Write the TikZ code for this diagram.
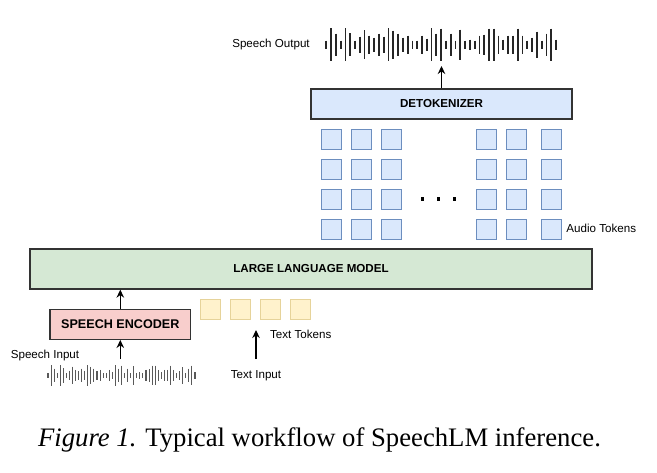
\documentclass[tikz,border=0pt]{standalone}
\usepackage{fontspec}
\setmainfont{Liberation Sans}
\newfontfamily\capfont{Liberation Serif}
\usetikzlibrary{arrows.meta}
\definecolor{blueFill}{HTML}{DAE8FC}
\definecolor{blueLine}{HTML}{6C8EBF}
\definecolor{greenFill}{HTML}{D5E8D4}
\definecolor{redFill}{HTML}{F8CECC}
\definecolor{yellowFill}{HTML}{FFF2CC}
\definecolor{yellowLine}{HTML}{D6B656}
\definecolor{boxLine}{HTML}{333333}
\tikzset{
  bigbox/.style={draw=boxLine, line width=1.3pt, inner sep=0pt, font=\fontsize{11.6}{13}\selectfont\bfseries},
  atok/.style={draw=blueLine, fill=blueFill, line width=0.9pt, minimum width=20pt, minimum height=20pt, inner sep=0pt},
  ttok/.style={draw=yellowLine!60, fill=yellowFill, line width=0.9pt, minimum width=20pt, minimum height=20pt, inner sep=0pt},
  lbl/.style={inner sep=0pt, anchor=base, font=\fontsize{11.6}{13}\selectfont},
  arr/.style={line width=1.2pt, -{Stealth[length=8pt,width=7.5pt]}},
  dotsq/.style={fill=black, minimum width=3.2pt, minimum height=3.2pt, inner sep=0pt},
}
\begin{document}
\begin{tikzpicture}[x=1pt,y=-1pt]
\useasboundingbox[fill=white] (0,0) rectangle (657,472);

% output waveform
\foreach \h [count=\i from 0] in {4,16.5,11,4,16.5,11.5,4,8,14.5,9,7,11,8,16.5,14,11,7,9,4,4,9,6,16.5,11,16,4,11,4,15,4,5,4,9,10,16,16,9,5,9,9,16,9,4,7,13,4,11,16,5}
  \draw[line width=1.8pt, black!85] (326.3+\i*4.786, 44.5-\h) -- (326.3+\i*4.786, 44.5+\h);
\coordinate (outwave) at (441.5,66);
\node[lbl] (sout) at (271,47.2) {Speech Output};

% detokenizer
\node[bigbox, fill=blueFill, minimum width=261pt, minimum height=30pt] (detok) at (441.5,104) {DETOKENIZER};
\draw[arr] (detok.north) -- (outwave);

% audio tokens
\foreach \c/\x in {1/331.7,2/361.7,3/391.7,4/486.7,5/516.7,6/551.7}
  \foreach \r/\y in {1/139.3,2/169.3,3/199.3,4/229.3}
    \node[atok] (a\c\r) at (\x,\y) {};
\node[dotsq] (d1) at (422.7,199) {};
\node[dotsq] (d2) at (438.5,199) {};
\node[dotsq] (d3) at (454.3,199) {};
\node[lbl] (atlbl) at (601.3,232.5) {Audio Tokens};

% LLM
\node[bigbox, fill=greenFill, minimum width=562pt, minimum height=40pt] (llm) at (311,269) {LARGE LANGUAGE MODEL};

% speech encoder
\node[bigbox, fill=redFill, minimum width=140.7pt, minimum height=30pt, font=\fontsize{12.6}{14}\selectfont\bfseries] (enc) at (120.3,324.3) {SPEECH ENCODER};
\draw[arr] (enc.north) -- (enc.north |- llm.south);

% speech input
\coordinate (sin) at (120.3,359);
\draw[arr] (sin) -- (enc.south);
\node[lbl] (sinlbl) at (45,358.2) {Speech Input};
\foreach \h [count=\i from 0] in {4,16.5,11,4,16.5,11.5,4,8,14.5,9,7,11,8,16.5,14,11,7,9,4,4,9,6,16.5,11,16,4,11,4,15,4,5,4,9,10,16,16,9,5,9,9,16,9,4,7,13,4,11,16,5}
  \draw[line width=1.1pt, black!65] (48+\i*3.0625, 375.5-0.62*\h) -- (48+\i*3.0625, 375.5+0.62*\h);

% text tokens
\node[ttok] (t1) at (210,309.3) {};
\node[ttok] (t2) at (240,309.3) {};
\node[ttok] (t3) at (270,309.3) {};
\node[ttok] (t4) at (300.7,309.3) {};
\node[lbl] (ttlbl) at (300.8,338.2) {Text Tokens};
\coordinate (tinTop) at (256,359);
\coordinate (tinEnd) at (256,330);
\draw[arr] (tinTop) -- (tinEnd);
\node[lbl] (tin) at (256,378.2) {Text Input};

% caption
\node[inner sep=0pt, anchor=base, font=\capfont\fontsize{26.7}{30}\selectfont] (cap) at (319.5,446) {\textit{Figure 1.} Typical workflow of SpeechLM inference.};
\end{tikzpicture}
\end{document}
